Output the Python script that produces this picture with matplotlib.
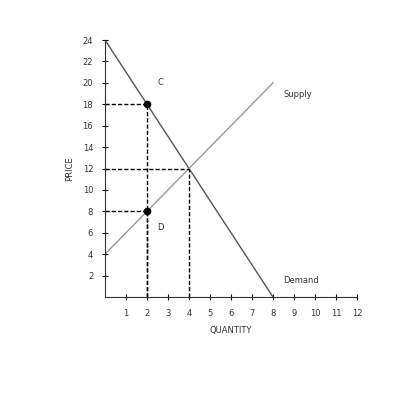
import matplotlib
matplotlib.use("Agg")
import matplotlib.pyplot as plt

demand_x = [0, 8]
demand_y = [24, 0]
supply_x = [0, 8]
supply_y = [4, 20]
points_x = [2, 2]
points_y = [18, 8]
point_labels = ["C", "D"]
eq_x, eq_y = 4, 12
xticks = list(range(1, 13))
yticks = list(range(2, 25, 2))

tc = "#333333"
fig = plt.figure(figsize=(4, 4), dpi=100)
ax = fig.add_axes([0.2625, 0.2575, 0.63, 0.6425])
ax.set_xlim(0, 12)
ax.set_ylim(0, 24)
for s in ["top", "right"]:
    ax.spines[s].set_visible(False)
for s in ["left", "bottom"]:
    ax.spines[s].set_color("#333333")
    ax.spines[s].set_linewidth(0.8)

ax.plot(demand_x, demand_y, color="#555555", lw=1)
ax.plot(supply_x, supply_y, color="#999999", lw=1)

for x, y in [(points_x[0], points_y[0]), (eq_x, eq_y), (points_x[1], points_y[1])]:
    ax.plot([0, x], [y, y], color="black", lw=1, ls=(0, (3, 1.5)))
    ax.plot([x, x], [0, y], color="black", lw=1, ls=(0, (3, 1.5)))
ax.scatter(points_x, points_y, color="black", s=20, zorder=5)
ax.text(2.5, 19.8, point_labels[0], fontsize=6, color=tc)
ax.text(2.5, 6.3, point_labels[1], fontsize=6, color=tc)
ax.text(8.5, 18.7, "Supply", fontsize=6, color=tc)
ax.text(8.5, 1.3, "Demand", fontsize=6, color=tc)

ax.set_xticks(xticks)
ax.set_yticks(yticks)
ax.tick_params(direction="inout", length=5, labelsize=6, width=0.8, labelcolor=tc)
ax.tick_params(axis="x", pad=6)
ax.tick_params(axis="y", pad=6)
ax.set_xlabel("QUANTITY", fontsize=6, color=tc, labelpad=6)
ax.set_ylabel("PRICE", fontsize=6, color=tc, labelpad=6)
fig.savefig("out.png", dpi=100)
